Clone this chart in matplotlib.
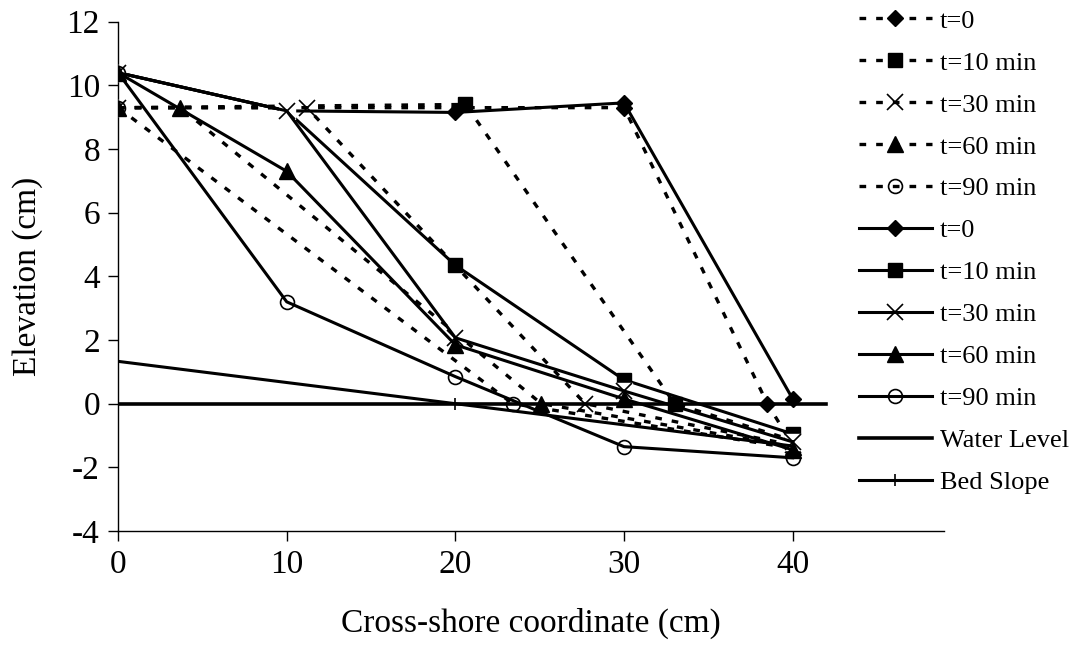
import matplotlib
matplotlib.use("Agg")
import matplotlib.pyplot as plt

# ---------------- data ----------------
labels = ["t=0", "t=10 min", "t=30 min", "t=60 min", "t=90 min"]
markers = ["D", "s", "x", "^", "o"]

# dashed (measured) profiles
exp_x = [
    [0, 30, 38.5, 40],
    [0, 20.6, 33, 40],
    [0, 11.2, 27.7, 40],
    [0, 3.7, 25.1, 40],
    [0, 23.4, 40],
]
exp_y = [
    [9.3, 9.3, 0.0, -1.3],
    [9.3, 9.4, 0.0, -1.15],
    [9.3, 9.3, 0.0, -1.3],
    [9.3, 9.3, 0.0, -1.35],
    [9.3, 0.0, -1.4],
]

# solid (computed) profiles
sim_x = [0, 10, 20, 30, 40]
sim_y = [
    [10.4, 9.2, 9.15, 9.45, 0.15],
    [10.4, 9.2, 4.35, 0.75, -0.95],
    [10.4, 9.2, 2.07, 0.4, -1.2],
    [10.4, 7.3, 1.85, 0.15, -1.45],
    [10.4, 3.2, 0.85, -1.35, -1.7],
]

water_x = [0, 42]
water_y = [0, 0]
bed_x = [0, 20, 40]
bed_y = [1.33, 0.0, -1.33]

x_ticks = [0, 10, 20, 30, 40]
y_ticks = [-4, -2, 0, 2, 4, 6, 8, 10, 12]

# ---------------- plot ----------------
plt.rcParams["font.family"] = ["Liberation Serif", "DejaVu Serif"]
plt.rcParams["axes.unicode_minus"] = False
fig = plt.figure(figsize=(10.86, 6.58), dpi=100)
ax = fig.add_axes([0.1087, 0.193, 0.761, 0.774])

msize = {"D": 8, "s": 10, "x": 11, "^": 11, "o": 10}
dash = (0, (2.0, 3.0))
handles = []
z = 2
for i in range(5):
    m = markers[i]
    if m == "x":
        ax.plot(exp_x[i], exp_y[i], ls="none", marker="s", ms=11, mfc="white",
                mec="white", zorder=z)
    h, = ax.plot(exp_x[i], exp_y[i], color="black", lw=2.4, ls=dash,
                 marker=m, ms=msize[m],
                 mfc="none" if m == "o" else "black", mec="black",
                 mew=1.2 if m in ("x", "o") else 1, zorder=z + 0.5,
                 label=labels[i])
    handles.append(h)
    z += 1
for i in range(5):
    m = markers[i]
    if m == "x":
        ax.plot(sim_x, sim_y[i], ls="none", marker="s", ms=11, mfc="white",
                mec="white", zorder=z)
    h, = ax.plot(sim_x, sim_y[i], color="black", lw=2.2, ls="-",
                 marker=m, ms=msize[m],
                 mfc="none" if m == "o" else "black", mec="black",
                 mew=1.2 if m in ("x", "o") else 1, zorder=z + 0.5,
                 label=labels[i])
    handles.append(h)
    z += 1
h, = ax.plot(water_x, water_y, color="black", lw=2.6, zorder=z, label="Water Level")
handles.append(h)
z += 1
h, = ax.plot(bed_x, bed_y, color="black", lw=2.2, marker="|", ms=9, mew=1.2,
             zorder=z, label="Bed Slope")
handles.append(h)

ax.set_xlim(0, 49)
ax.set_ylim(-4, 12)
ax.set_xticks(x_ticks)
ax.set_yticks(y_ticks)
for s in ["top", "right"]:
    ax.spines[s].set_visible(False)
for s in ["left", "bottom"]:
    ax.spines[s].set_linewidth(1.0)
ax.tick_params(axis="both", direction="out", length=7, width=1.0,
               labelsize=24, pad=6)
ax.set_xlabel("Cross-shore coordinate (cm)", fontsize=24, labelpad=20)
ax.set_ylabel("Elevation (cm)", fontsize=24, labelpad=17)

fig.legend(handles=handles, loc="upper left", bbox_to_anchor=(0.791, 0.986),
           frameon=False, fontsize=19, handlelength=2.75, handletextpad=0.3,
           labelspacing=0.70, borderpad=0.0, borderaxespad=0.0)

fig.savefig("out.png", dpi=100)
